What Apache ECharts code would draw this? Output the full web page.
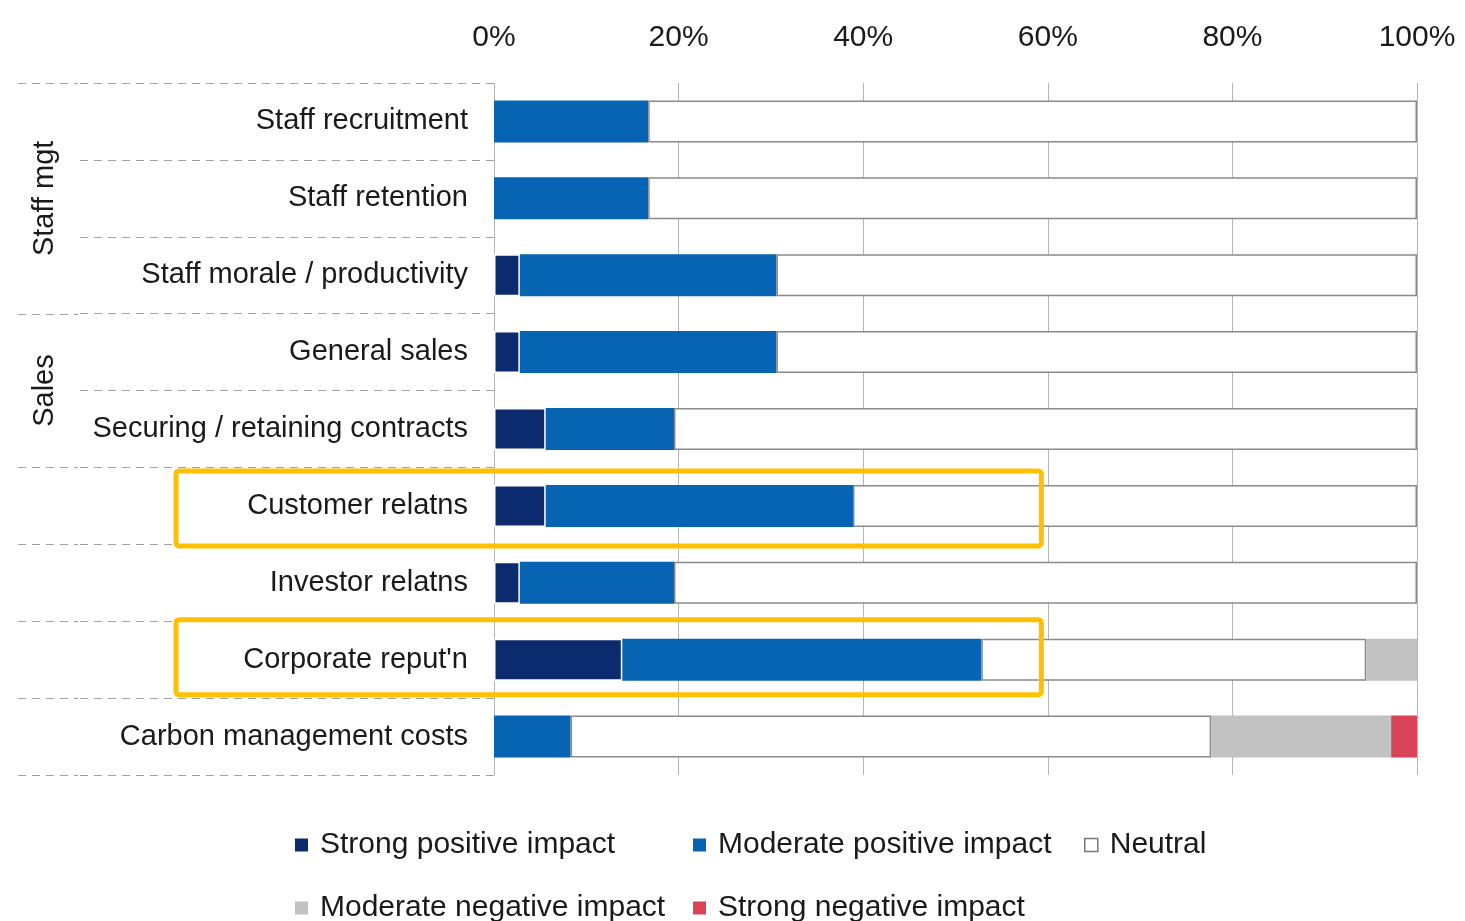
<!DOCTYPE html>
<html>
<head>
<meta charset="utf-8">
<script src="https://cdn.jsdelivr.net/npm/echarts@6/dist/echarts.min.js"></script>
<style>
html,body{margin:0;padding:0;background:#fff;}
#chart{width:1465px;height:921px;}
</style>
</head>
<body>
<div id="chart"></div>
<script>
//分类（自上而下）
var categories = ["Staff recruitment","Staff retention","Staff morale / productivity","General sales","Securing / retaining contracts","Customer relatns","Investor relatns","Corporate reput'n","Carbon management costs"];
//各系列数值（%）
var strongPos = [0, 0, 2.8, 2.8, 5.6, 5.6, 2.8, 13.9, 0];
var moderatePos = [16.7, 16.7, 27.8, 27.8, 13.9, 33.3, 16.7, 38.9, 8.3];
var neutral = [83.3, 83.3, 69.4, 69.4, 80.5, 61.1, 80.5, 41.7, 69.4];
var moderateNeg = [0, 0, 0, 0, 0, 0, 0, 5.5, 19.5];
var strongNeg = [0, 0, 0, 0, 0, 0, 0, 0, 2.8];
var seriesNames = ["Strong positive impact","Moderate positive impact","Neutral","Moderate negative impact","Strong negative impact"];
//分组标签
var groups = [
	{name: "Staff mgt", from: 0, to: 3},
	{name: "Sales", from: 3, to: 5}
];
//需要通栏虚线的行边界
var fullLines = [0, 3, 5, 6, 7, 8, 9];
//高亮框：行序号及右端数值
var highlightRows = [5, 7];
var highlightEnd = 59.3;

var font = "'Liberation Sans', Arial, sans-serif";
var textColor = "#1a1a1a";

var chart = echarts.init(document.getElementById('chart'));

function barSeries(name, data, color, border, borderWidth){
	return {
		name: name,
		type: 'bar',
		stack: 'total',
		barWidth: 42,
		silent: true,
		itemStyle: {
			color: color,
			borderColor: border,
			borderWidth: borderWidth
		},
		data: data
	};
}

function legendAt(name, left, top, itemStyle){
	return {
		data: [{name: name, icon: 'rect'}],
		left: left,
		top: top,
		itemWidth: 13,
		itemHeight: 13,
		selectedMode: false,
		itemStyle: itemStyle,
		textStyle: {
			fontFamily: font,
			fontSize: 30,
			color: textColor,
			padding: [0, 0, 0, 7]
		}
	};
}

var option = {
	animation: false,
	backgroundColor: '#fff',
	grid: {
		left: 494,
		right: 48,
		top: 83,
		bottom: 146
	},
	xAxis: {
		type: 'value',
		position: 'top',
		min: 0,
		max: 100,
		interval: 20,
		axisLine: {show: false},
		axisTick: {show: false},
		axisLabel: {
			formatter: '{value}%',
			fontFamily: font,
			fontSize: 30,
			color: textColor,
			margin: 30
		},
		splitLine: {
			show: true,
			lineStyle: {color: '#b5b5b5', width: 1}
		}
	},
	yAxis: {
		type: 'category',
		inverse: true,
		data: categories,
		axisLine: {show: false},
		axisTick: {
			show: true,
			length: 416,
			lineStyle: {color: '#a0a0a0', width: 1, type: [8, 6]}
		},
		axisLabel: {
			fontFamily: font,
			fontSize: 29,
			color: textColor,
			margin: 26
		}
	},
	legend: [
		legendAt(seriesNames[0], 290, 825, {borderWidth: 0}),
		legendAt(seriesNames[1], 688, 825, {borderWidth: 0}),
		legendAt(seriesNames[2], 1079, 825, {borderColor: '#777', borderWidth: 1.5}),
		legendAt(seriesNames[3], 290, 888, {borderWidth: 0}),
		legendAt(seriesNames[4], 688, 888, {borderWidth: 0})
	],
	series: [
		barSeries(seriesNames[0], strongPos, '#0c2b6e', '#ffffff', 1.5),
		barSeries(seriesNames[1], moderatePos, '#0664b2', '#0664b2', 0),
		barSeries(seriesNames[2], neutral, '#ffffff', '#8a8a8a', 1.5),
		barSeries(seriesNames[3], moderateNeg, '#c2c2c2', '#c2c2c2', 0),
		barSeries(seriesNames[4], strongNeg, '#d94459', '#d94459', 0)
	]
};
chart.setOption(option);

/*
 * 根据坐标轴换算行边界，绘制分组虚线、分组标签和高亮框
 */
function rowCenter(i){
	return chart.convertToPixel({yAxisIndex: 0}, categories[i]);
}
var step = rowCenter(1) - rowCenter(0);
function rowEdge(i){
	return rowCenter(0) - step / 2 + step * i;
}

var graphics = [];
$each(fullLines, function(b){
	var y = Math.round(rowEdge(b)) + 0.5;
	graphics.push({
		type: 'line',
		silent: true,
		shape: {x1: 18, y1: y, x2: 78, y2: y},
		style: {stroke: '#a0a0a0', lineWidth: 1, lineDash: [8, 6]}
	});
});
$each(groups, function(g){
	var yc = (rowEdge(g.from) + rowEdge(g.to)) / 2;
	graphics.push({
		type: 'text',
		silent: true,
		x: 45,
		y: yc,
		rotation: Math.PI / 2,
		style: {
			text: g.name,
			font: '29px ' + font,
			fill: textColor,
			align: 'center',
			verticalAlign: 'middle'
		}
	});
});
//高亮框与行中心的微小偏移
var boxShift = [2, -3];
var xRight = chart.convertToPixel({xAxisIndex: 0}, highlightEnd);
$each(highlightRows, function(r, i){
	var yc = rowCenter(r) + boxShift[i];
	graphics.push({
		type: 'rect',
		silent: true,
		z: 100,
		shape: {x: 176, y: yc - 37, width: xRight - 176, height: 75, r: 3},
		style: {fill: 'none', stroke: '#ffc000', lineWidth: 5}
	});
});
chart.setOption({graphic: graphics});

function $each(arr, fn){
	for (var i = 0; i < arr.length; i++){
		fn(arr[i], i);
	}
}
</script>
</body>
</html>
